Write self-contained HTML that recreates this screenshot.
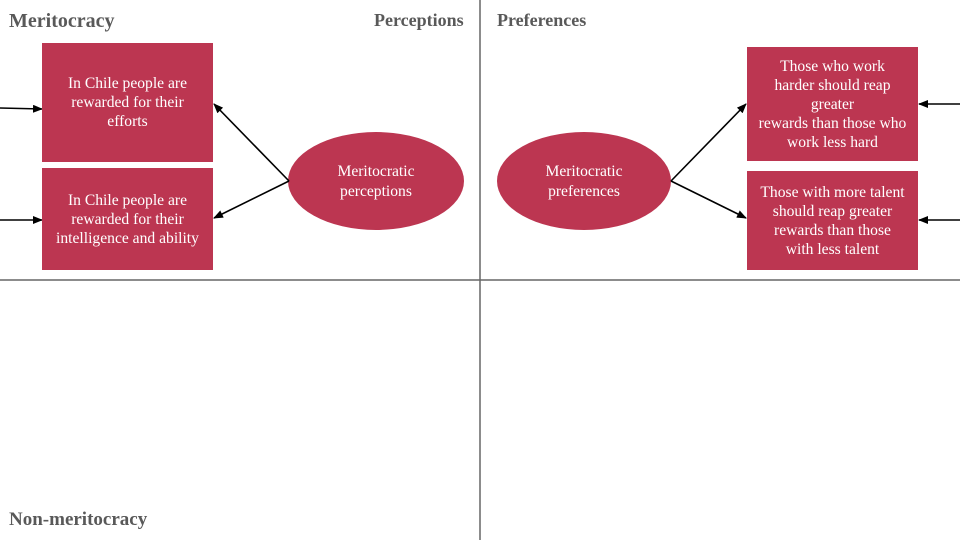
<!DOCTYPE html>
<html><head><style>
body{margin:0;width:960px;height:540px;background:#fff;overflow:hidden;position:relative;font-family:"Liberation Serif",serif}
.b{position:absolute;background:#bc3651;color:#fff;font-size:15.6px;line-height:19px;text-align:center;display:flex;align-items:center;justify-content:center}
.h{position:absolute;color:#595959;font-weight:bold}
</style></head><body>
<svg width="960" height="540" style="position:absolute;left:0;top:0">
<defs><marker id="a" markerWidth="10" markerHeight="8" refX="9" refY="4" orient="auto" markerUnits="userSpaceOnUse"><path d="M0,0L10,4L0,8z" fill="#000"/></marker></defs>
<line x1="480" y1="0" x2="480" y2="540" stroke="#666" stroke-width="1.5"/>
<line x1="0" y1="280" x2="960" y2="280" stroke="#666" stroke-width="1.5"/>
<ellipse cx="376" cy="181" rx="88" ry="49" fill="#bc3651"/>
<ellipse cx="584" cy="181" rx="87" ry="49" fill="#bc3651"/>
<g stroke="#000" stroke-width="1.6" fill="none" marker-end="url(#a)">
<line x1="0" y1="108" x2="42" y2="109"/>
<line x1="0" y1="220" x2="42" y2="220"/>
<line x1="289" y1="181" x2="214" y2="104"/>
<line x1="289" y1="181" x2="214" y2="218"/>
<line x1="671" y1="181" x2="746" y2="104"/>
<line x1="671" y1="181" x2="746" y2="218"/>
<line x1="960" y1="104" x2="919" y2="104"/>
<line x1="960" y1="220" x2="919" y2="220"/>
</g>
</svg>
<div class="h" style="left:9px;top:10px;font-size:20px">Meritocracy</div>
<div class="h" style="left:374px;top:10px;font-size:18px">Perceptions</div>
<div class="h" style="left:497px;top:10px;font-size:18px">Preferences</div>
<div class="h" style="left:9px;top:509px;font-size:19px">Non-meritocracy</div>
<div class="b" style="left:42px;top:43px;width:171px;height:119px">In Chile people are<br>rewarded for their<br>efforts</div>
<div class="b" style="left:42px;top:168px;width:171px;height:102px">In Chile people are<br>rewarded for their<br>intelligence and ability</div>
<div class="b" style="left:747px;top:47px;width:171px;height:114px">Those who work<br>harder should reap<br>greater<br>rewards than those who<br>work less hard</div>
<div class="b" style="left:747px;top:171px;width:171px;height:99px">Those with more talent<br>should reap greater<br>rewards than those<br>with less talent</div>
<div class="b" style="left:300px;top:162px;width:152px;height:40px;background:none;line-height:20px">Meritocratic<br>perceptions</div>
<div class="b" style="left:508px;top:162px;width:152px;height:40px;background:none;line-height:20px">Meritocratic<br>preferences</div>
</body></html>
